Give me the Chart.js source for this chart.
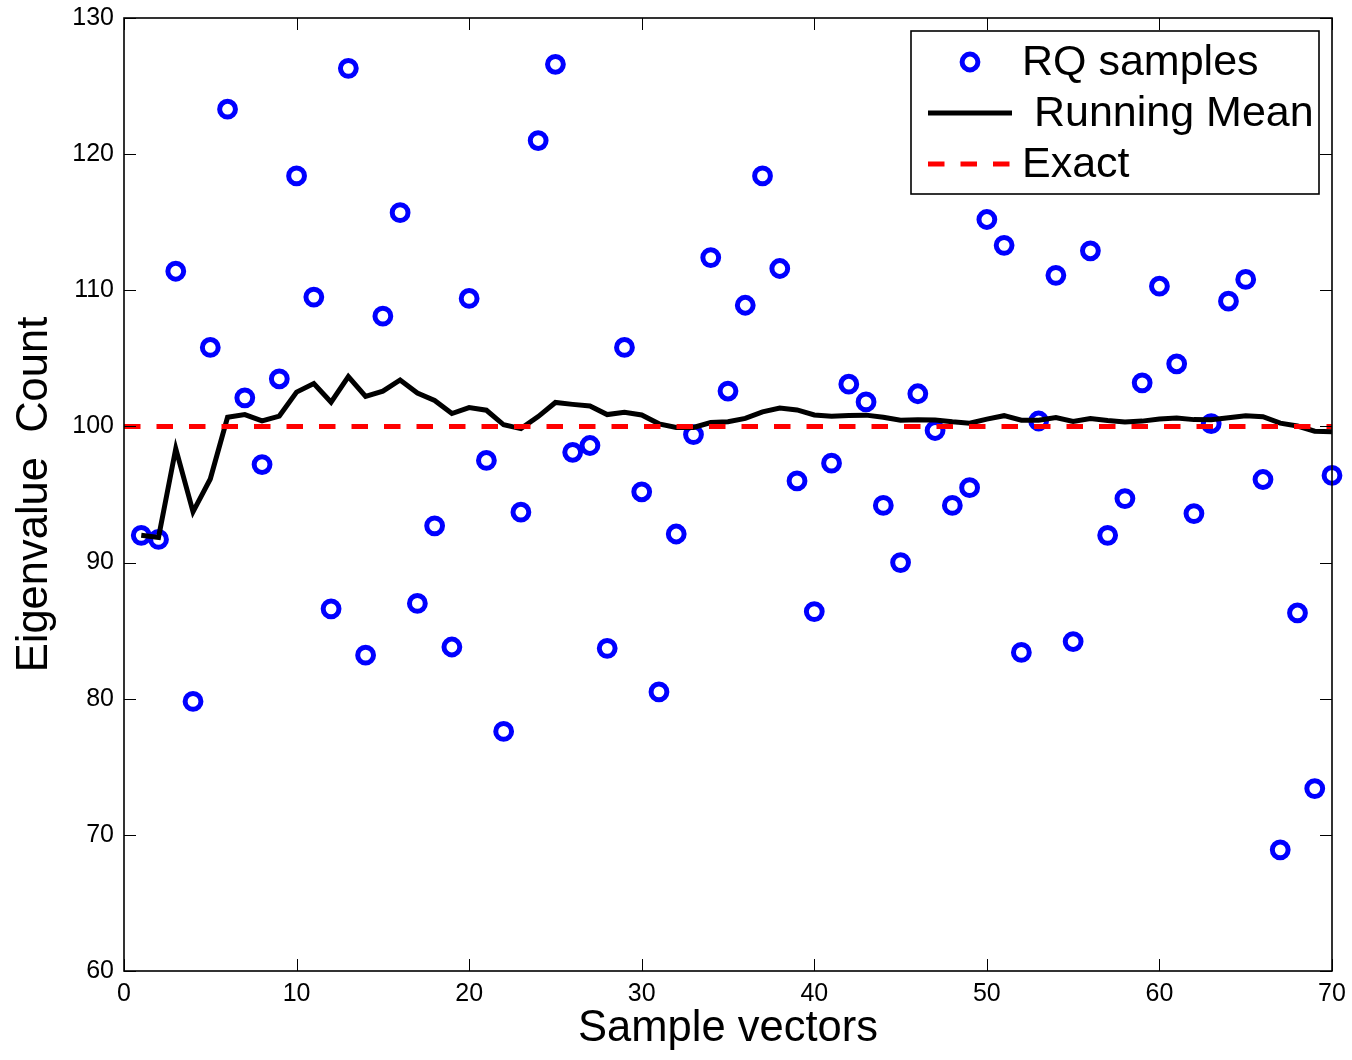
<!DOCTYPE html>
<html>
<head>
<meta charset="utf-8">
<title>Eigenvalue Count</title>
<script src="https://cdn.jsdelivr.net/npm/chart.js@4/dist/chart.umd.min.js"></script>
<style>
  body { margin: 0; background: #fff; }
  #wrap { width: 1352px; height: 1060px; }
</style>
</head>
<body>
<div id="wrap"><canvas id="chart" width="1352" height="1060"></canvas></div>
<script>
// sample index 1..70
const sampleIdx = [
   1,  2,  3,  4,  5,  6,  7,  8,  9, 10,
  11, 12, 13, 14, 15, 16, 17, 18, 19, 20,
  21, 22, 23, 24, 25, 26, 27, 28, 29, 30,
  31, 32, 33, 34, 35, 36, 37, 38, 39, 40,
  41, 42, 43, 44, 45, 46, 47, 48, 49, 50,
  51, 52, 53, 54, 55, 56, 57, 58, 59, 60,
  61, 62, 63, 64, 65, 66, 67, 68, 69, 70
];

// Rayleigh-quotient estimates
const rqSamples = [
   92.0,  91.7, 111.4,  79.8, 105.8, 123.3, 102.1,  97.2, 103.5, 118.4,
  109.5,  86.6, 126.3,  83.2, 108.1, 115.7,  87.0,  92.7,  83.8, 109.4,
   97.5,  77.6,  93.7, 121.0, 126.6,  98.1,  98.6,  83.7, 105.8,  95.2,
   80.5,  92.1,  99.4, 112.4, 102.6, 108.9, 118.4, 111.6,  96.0,  86.4,
   97.3, 103.1, 101.8,  94.2,  90.0, 102.4,  99.7,  94.2,  95.5, 115.2,
  113.3,  83.4, 100.4, 111.1,  84.2, 112.9,  92.0,  94.7, 103.2, 110.3,
  104.6,  93.6, 100.2, 109.2, 110.8,  96.1,  68.9,  86.3,  73.4,  96.4
];

// running mean after each sample
const runningMean = [
   92.00,  91.85,  98.37,  93.73,  96.14, 100.67, 100.87, 100.41, 100.76, 102.52,
  103.15, 101.78, 103.66, 102.20, 102.59, 103.41, 102.45, 101.91, 100.95, 101.38,
  101.19, 100.12,  99.84, 100.72, 101.76, 101.62, 101.50, 100.87, 101.04, 100.84,
  100.19,  99.93,  99.92, 100.29, 100.35, 100.59, 101.07, 101.35, 101.21, 100.84,
  100.75, 100.81, 100.83, 100.68, 100.45, 100.49, 100.47, 100.34, 100.24, 100.54,
  100.79, 100.46, 100.46, 100.66, 100.36, 100.58, 100.43, 100.33, 100.39, 100.55,
  100.61, 100.50, 100.49, 100.63, 100.79, 100.71, 100.24, 100.03,  99.65,  99.60
];

const exactX = [0, 70];
const exactY = [100, 100];

const xTicks = [0, 10, 20, 30, 40, 50, 60, 70];
const yTicks = [60, 70, 80, 90, 100, 110, 120, 130];

const FONT = '"Liberation Sans", Arial, Helvetica, sans-serif';

function toPoints(xs, ys) {
  return xs.map((x, i) => ({ x: x, y: ys[i] }));
}

// box around the plot with inward ticks on all four sides
const axesBox = {
  id: 'axesBox',
  afterDatasetsDraw(chart) {
    const { ctx, chartArea: a, scales } = chart;
    const len = 12;
    ctx.save();
    ctx.strokeStyle = '#000';
    ctx.lineWidth = 1;
    xTicks.forEach(v => {
      const px = Math.round(scales.x.getPixelForValue(v)) + 0.5;
      ctx.beginPath();
      ctx.moveTo(px, a.bottom); ctx.lineTo(px, a.bottom - len);
      ctx.moveTo(px, a.top); ctx.lineTo(px, a.top + len);
      ctx.stroke();
    });
    yTicks.forEach(v => {
      const py = Math.round(scales.y.getPixelForValue(v)) + 0.5;
      ctx.beginPath();
      ctx.moveTo(a.left, py); ctx.lineTo(a.left + len, py);
      ctx.moveTo(a.right, py); ctx.lineTo(a.right - len, py);
      ctx.stroke();
    });
    ctx.lineWidth = 1.6;
    ctx.strokeRect(a.left, a.top, a.right - a.left, a.bottom - a.top);
    ctx.restore();
  }
};

// legend box in the upper right, MATLAB style
const boxLegend = {
  id: 'boxLegend',
  afterDraw(chart) {
    const { ctx } = chart;
    const ds = chart.data.datasets;
    const bx = 911, by = 31, bw = 408, bh = 163;
    const rows = [62, 113, 164];
    ctx.save();
    ctx.fillStyle = '#fff';
    ctx.fillRect(bx, by, bw, bh);
    ctx.strokeStyle = '#000';
    ctx.lineWidth = 1.6;
    ctx.strokeRect(bx, by, bw, bh);

    ds.forEach((d, i) => {
      const y = rows[i];
      ctx.save();
      if (d.showLine === false) {
        ctx.beginPath();
        ctx.arc(970, y, d.pointRadius, 0, Math.PI * 2);
        ctx.strokeStyle = d.pointBorderColor;
        ctx.lineWidth = d.pointBorderWidth;
        ctx.stroke();
      } else {
        ctx.beginPath();
        ctx.strokeStyle = d.borderColor;
        ctx.lineWidth = d.borderWidth;
        ctx.setLineDash(d.borderDash || []);
        ctx.moveTo(928, y);
        ctx.lineTo(1012, y);
        ctx.stroke();
      }
      ctx.restore();
      ctx.fillStyle = '#000';
      ctx.font = '43px ' + FONT;
      ctx.textBaseline = 'middle';
      ctx.textAlign = 'left';
      ctx.fillText(d.label, 1022, y + 1);
    });
    ctx.restore();
  }
};

const ctx = document.getElementById('chart').getContext('2d');

new Chart(ctx, {
  type: 'scatter',
  data: {
    datasets: [
      {
        label: 'RQ samples',
        data: toPoints(sampleIdx, rqSamples),
        showLine: false,
        pointStyle: 'circle',
        pointRadius: 7.9,
        pointBorderWidth: 5,
        pointBorderColor: '#0000ff',
        pointBackgroundColor: 'rgba(0,0,0,0)',
        borderColor: '#0000ff',
        clip: false,
        order: 3
      },
      {
        label: ' Running Mean',
        type: 'line',
        data: toPoints(sampleIdx, runningMean),
        showLine: true,
        borderColor: '#000',
        borderWidth: 5,
        pointRadius: 0,
        tension: 0,
        fill: false,
        order: 2
      },
      {
        label: 'Exact',
        type: 'line',
        data: toPoints(exactX, exactY),
        showLine: true,
        borderColor: '#ff0000',
        borderWidth: 5,
        borderDash: [16.5, 16],
        pointRadius: 0,
        fill: false,
        order: 1
      }
    ]
  },
  options: {
    responsive: false,
    animation: false,
    events: [],
    layout: { padding: { top: 18, right: 20, left: 0, bottom: 0 } },
    plugins: {
      legend: { display: false },
      tooltip: { enabled: false }
    },
    scales: {
      x: {
        type: 'linear',
        min: 0,
        max: 70,
        afterFit(scale) {
          scale.height = 89;
          scale.paddingLeft = 0;
          scale.paddingRight = 0;
        },
        afterBuildTicks(scale) { scale.ticks = xTicks.map(v => ({ value: v })); },
        grid: { display: false, drawTicks: false },
        border: { display: false },
        ticks: {
          padding: 8,
          color: '#000',
          font: { family: FONT, size: 25 }
        },
        title: {
          display: true,
          text: 'Sample vectors',
          color: '#000',
          font: { family: FONT, size: 43.5 },
          padding: { top: 0, bottom: 5 }
        }
      },
      y: {
        type: 'linear',
        min: 60,
        max: 130,
        afterFit(scale) {
          scale.width = 124;
          scale.paddingTop = 0;
          scale.paddingBottom = 0;
        },
        afterBuildTicks(scale) { scale.ticks = yTicks.map(v => ({ value: v })); },
        grid: { display: false, drawTicks: false },
        border: { display: false },
        ticks: {
          padding: 10,
          color: '#000',
          font: { family: FONT, size: 25 }
        },
        title: {
          display: true,
          text: 'Eigenvalue  Count',
          color: '#000',
          font: { family: FONT, size: 43.5 },
          padding: { top: 9, bottom: 0 }
        }
      }
    }
  },
  plugins: [axesBox, boxLegend]
});
</script>
</body>
</html>
